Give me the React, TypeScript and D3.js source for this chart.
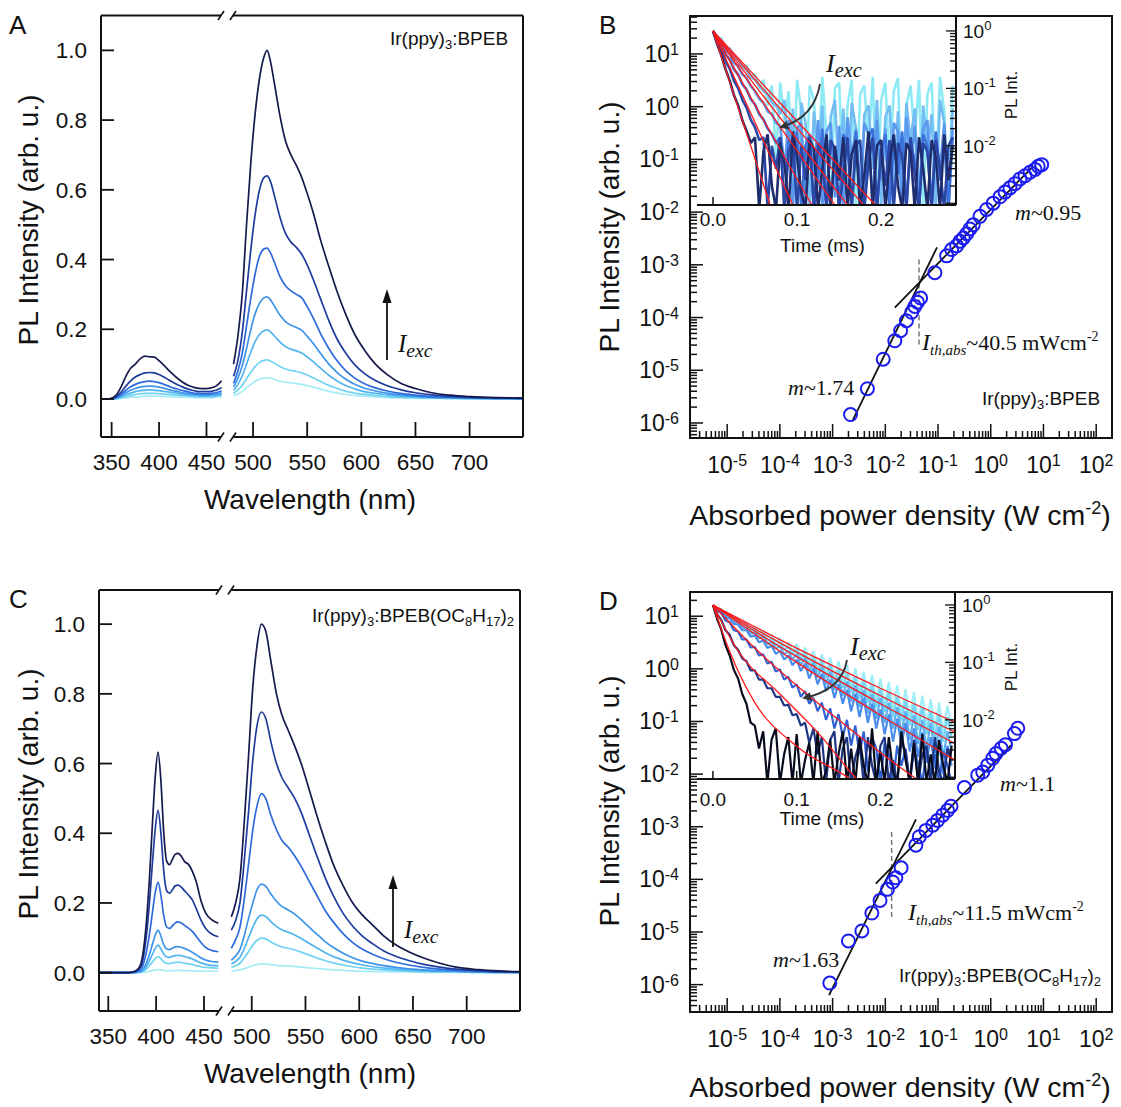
import React from "react";
import * as d3 from "d3";

const SANS = "'Liberation Sans', Arial, Helvetica, sans-serif";
const SERIF = "'Liberation Serif', 'Times New Roman', Times, serif";

// ---------- styling constants ----------
const SPEC_COLORS = ["#141a4e", "#1f3c9c", "#2d6bdc", "#3e94e8", "#52b4ee", "#6fd2f2", "#a6ecf7"];
const B_TRACE_COLORS = ["#1f2d6e", "#2a47a6", "#3c70da", "#5a98ee", "#73bdf3", "#8eeaf5"];
const D_TRACE_COLORS = ["#070b1e", "#1f3585", "#3062d6", "#4a8cec", "#5cb0f1", "#76d6f3", "#a0eff8"];
const FIT_COLOR = "#ff1a1a";
const SCATTER_COLOR = "#1c1cf0";

// ---------- ticks ----------
const Y_TICKS_SPEC = [0, 0.2, 0.4, 0.6, 0.8, 1.0];
const X_TICKS_LEFT = [350, 400, 450];
const X_TICKS_RIGHT = [500, 550, 600, 650, 700];
const INSET_T_TICKS = [0, 0.1, 0.2];
const TIME_STEP = 0.005; // ms between decay samples

// ---------- Panel A : Ir(ppy)3:BPEB spectra ----------
const A_LEFT_WL = [339, 345, 350, 355, 360, 365, 370, 375, 380, 385, 390, 395, 400, 405, 410, 415, 420, 425, 430, 435, 440, 445, 450, 455, 460, 466];
const A_L1 = [0, 0, 0.002, 0.012, 0.035, 0.065, 0.088, 0.1, 0.115, 0.123, 0.121, 0.12, 0.11, 0.097, 0.083, 0.07, 0.058, 0.048, 0.04, 0.035, 0.031, 0.03, 0.03, 0.032, 0.037, 0.052];
const A_L2 = [0, 0, 0.001, 0.007, 0.02, 0.037, 0.052, 0.063, 0.07, 0.075, 0.076, 0.075, 0.07, 0.063, 0.055, 0.047, 0.04, 0.034, 0.029, 0.025, 0.022, 0.021, 0.021, 0.022, 0.025, 0.032];
const A_L3 = [0, 0, 0.001, 0.005, 0.014, 0.025, 0.035, 0.042, 0.047, 0.05, 0.051, 0.05, 0.047, 0.042, 0.037, 0.032, 0.028, 0.024, 0.021, 0.018, 0.016, 0.015, 0.015, 0.016, 0.018, 0.023];
const A_L4 = [0, 0, 0, 0.003, 0.01, 0.018, 0.025, 0.03, 0.034, 0.036, 0.037, 0.036, 0.034, 0.031, 0.027, 0.024, 0.021, 0.018, 0.016, 0.014, 0.013, 0.012, 0.012, 0.013, 0.014, 0.018];
const A_L5 = [0, 0, 0, 0.002, 0.007, 0.012, 0.017, 0.021, 0.024, 0.025, 0.026, 0.025, 0.024, 0.022, 0.02, 0.018, 0.016, 0.014, 0.012, 0.011, 0.01, 0.009, 0.009, 0.01, 0.011, 0.014];
const A_L6 = [0, 0, 0, 0.001, 0.004, 0.007, 0.01, 0.013, 0.015, 0.016, 0.016, 0.016, 0.015, 0.014, 0.013, 0.012, 0.011, 0.01, 0.009, 0.008, 0.007, 0.007, 0.007, 0.007, 0.008, 0.01];
const A_L7 = [0, 0, 0, 0.001, 0.002, 0.004, 0.005, 0.006, 0.007, 0.008, 0.008, 0.008, 0.008, 0.007, 0.007, 0.006, 0.006, 0.005, 0.005, 0.004, 0.004, 0.004, 0.004, 0.004, 0.005, 0.006];

const A_RIGHT_WL = [482, 486, 490, 494, 498, 502, 506, 510, 513, 516, 520, 525, 530, 535, 540, 545, 550, 556, 562, 570, 578, 586, 594, 603, 613, 624, 636, 650, 665, 682, 700, 725, 749];
const A_R1 = [0.10, 0.18, 0.30, 0.50, 0.68, 0.82, 0.92, 0.98, 1.00, 0.97, 0.90, 0.81, 0.74, 0.70, 0.67, 0.635, 0.59, 0.53, 0.46, 0.38, 0.305, 0.24, 0.185, 0.14, 0.10, 0.07, 0.046, 0.03, 0.018, 0.011, 0.007, 0.004, 0.003];
const A_R2 = [0.065, 0.11, 0.19, 0.31, 0.43, 0.53, 0.60, 0.635, 0.64, 0.625, 0.58, 0.52, 0.475, 0.45, 0.435, 0.415, 0.385, 0.34, 0.29, 0.225, 0.17, 0.13, 0.098, 0.073, 0.053, 0.038, 0.027, 0.018, 0.012, 0.008, 0.005, 0.003, 0.002];
const A_R3 = [0.045, 0.08, 0.13, 0.21, 0.29, 0.36, 0.41, 0.43, 0.433, 0.42, 0.39, 0.35, 0.325, 0.31, 0.30, 0.29, 0.265, 0.23, 0.19, 0.145, 0.108, 0.08, 0.06, 0.044, 0.032, 0.023, 0.016, 0.011, 0.007, 0.005, 0.003, 0.002, 0.001];
const A_R4 = [0.035, 0.06, 0.095, 0.145, 0.20, 0.245, 0.275, 0.29, 0.293, 0.285, 0.265, 0.24, 0.222, 0.212, 0.205, 0.197, 0.18, 0.158, 0.132, 0.10, 0.075, 0.056, 0.042, 0.031, 0.023, 0.017, 0.012, 0.008, 0.005, 0.004, 0.003, 0.002, 0.001];
const A_R5 = [0.025, 0.042, 0.066, 0.10, 0.135, 0.165, 0.185, 0.196, 0.198, 0.193, 0.18, 0.163, 0.15, 0.143, 0.138, 0.132, 0.121, 0.106, 0.089, 0.068, 0.051, 0.038, 0.029, 0.021, 0.016, 0.012, 0.008, 0.006, 0.004, 0.003, 0.002, 0.001, 0.001];
const A_R6 = [0.016, 0.026, 0.039, 0.058, 0.077, 0.093, 0.105, 0.111, 0.112, 0.109, 0.102, 0.093, 0.086, 0.082, 0.079, 0.075, 0.069, 0.06, 0.051, 0.039, 0.03, 0.022, 0.017, 0.013, 0.01, 0.007, 0.005, 0.004, 0.003, 0.002, 0.001, 0.001, 0];
const A_R7 = [0.009, 0.015, 0.022, 0.032, 0.042, 0.051, 0.057, 0.06, 0.061, 0.06, 0.056, 0.051, 0.048, 0.046, 0.044, 0.042, 0.038, 0.034, 0.029, 0.022, 0.017, 0.013, 0.01, 0.008, 0.006, 0.004, 0.003, 0.002, 0.002, 0.001, 0.001, 0, 0];

// ---------- Panel C : Ir(ppy)3:BPEB(OC8H17)2 spectra ----------
const C_LEFT_WL = [340, 350, 360, 370, 375, 380, 384, 387, 390, 393, 396, 399, 402, 405, 408, 411, 414, 417, 420, 423, 426, 430, 434, 438, 442, 447, 452, 458, 465];
const C_L1 = [0, 0, 0, 0, 0.002, 0.008, 0.025, 0.07, 0.15, 0.27, 0.42, 0.56, 0.633, 0.55, 0.4, 0.32, 0.31, 0.325, 0.34, 0.342, 0.335, 0.318, 0.31, 0.29, 0.26, 0.205, 0.17, 0.152, 0.142];
const C_L2 = [0, 0, 0, 0, 0.001, 0.006, 0.018, 0.05, 0.11, 0.2, 0.31, 0.41, 0.466, 0.4, 0.29, 0.235, 0.228, 0.238, 0.249, 0.251, 0.246, 0.234, 0.222, 0.208, 0.183, 0.15, 0.126, 0.111, 0.103];
const C_L3 = [0, 0, 0, 0, 0.001, 0.003, 0.01, 0.028, 0.062, 0.11, 0.17, 0.228, 0.26, 0.222, 0.163, 0.131, 0.127, 0.134, 0.143, 0.146, 0.143, 0.135, 0.127, 0.118, 0.104, 0.086, 0.072, 0.064, 0.06];
const C_L4 = [0, 0, 0, 0, 0, 0.002, 0.005, 0.013, 0.029, 0.052, 0.08, 0.107, 0.122, 0.105, 0.08, 0.068, 0.066, 0.07, 0.074, 0.075, 0.073, 0.069, 0.064, 0.058, 0.051, 0.042, 0.036, 0.032, 0.03];
const C_L5 = [0, 0, 0, 0, 0, 0.001, 0.003, 0.009, 0.019, 0.034, 0.052, 0.069, 0.079, 0.068, 0.053, 0.045, 0.044, 0.047, 0.049, 0.05, 0.049, 0.046, 0.043, 0.039, 0.034, 0.028, 0.024, 0.021, 0.02];
const C_L6 = [0, 0, 0, 0, 0, 0.001, 0.002, 0.005, 0.011, 0.02, 0.03, 0.04, 0.046, 0.04, 0.031, 0.027, 0.026, 0.028, 0.029, 0.03, 0.029, 0.027, 0.025, 0.023, 0.02, 0.017, 0.015, 0.014, 0.013];
const C_L7 = [0, 0, 0, 0, 0, 0, 0, 0.001, 0.002, 0.004, 0.006, 0.008, 0.009, 0.008, 0.007, 0.006, 0.006, 0.006, 0.006, 0.007, 0.006, 0.006, 0.006, 0.005, 0.005, 0.004, 0.004, 0.004, 0.004];

const C_RIGHT_WL = [481, 485, 489, 493, 497, 501, 505, 509, 513, 518, 523, 528, 534, 540, 546, 553, 560, 568, 576, 585, 594, 603, 613, 623, 634, 646, 660, 675, 690, 710, 730, 749];
const C_R1 = [0.16, 0.2, 0.27, 0.43, 0.62, 0.82, 0.94, 1.0, 0.98, 0.89, 0.8, 0.74, 0.695, 0.65, 0.6, 0.53, 0.457, 0.38, 0.31, 0.25, 0.2, 0.165, 0.135, 0.105, 0.08, 0.06, 0.042, 0.027, 0.016, 0.009, 0.005, 0.003];
const C_R2 = [0.122, 0.15, 0.2, 0.32, 0.46, 0.61, 0.71, 0.748, 0.73, 0.66, 0.6, 0.56, 0.53, 0.5, 0.46, 0.4, 0.34, 0.275, 0.22, 0.17, 0.133, 0.105, 0.082, 0.062, 0.047, 0.035, 0.024, 0.016, 0.01, 0.006, 0.003, 0.002];
const C_R3 = [0.07, 0.095, 0.13, 0.21, 0.31, 0.41, 0.48, 0.514, 0.5, 0.45, 0.41, 0.38, 0.36, 0.335, 0.305, 0.265, 0.225, 0.18, 0.145, 0.112, 0.086, 0.067, 0.052, 0.04, 0.03, 0.022, 0.015, 0.01, 0.007, 0.004, 0.002, 0.001];
const C_R4 = [0.036, 0.048, 0.066, 0.105, 0.155, 0.2, 0.238, 0.254, 0.248, 0.225, 0.205, 0.19, 0.18, 0.168, 0.152, 0.132, 0.112, 0.09, 0.072, 0.056, 0.043, 0.033, 0.026, 0.02, 0.015, 0.011, 0.008, 0.005, 0.004, 0.002, 0.001, 0.001];
const C_R5 = [0.025, 0.032, 0.044, 0.069, 0.1, 0.13, 0.155, 0.165, 0.161, 0.146, 0.133, 0.123, 0.116, 0.108, 0.098, 0.085, 0.072, 0.058, 0.046, 0.036, 0.028, 0.022, 0.017, 0.013, 0.01, 0.007, 0.005, 0.004, 0.003, 0.002, 0.001, 0.001];
const C_R6 = [0.016, 0.02, 0.027, 0.042, 0.06, 0.079, 0.093, 0.099, 0.097, 0.088, 0.08, 0.074, 0.07, 0.065, 0.059, 0.051, 0.043, 0.035, 0.028, 0.022, 0.017, 0.013, 0.01, 0.008, 0.006, 0.004, 0.003, 0.002, 0.002, 0.001, 0.001, 0];
const C_R7 = [0.005, 0.006, 0.008, 0.011, 0.016, 0.02, 0.023, 0.025, 0.025, 0.023, 0.021, 0.02, 0.019, 0.018, 0.016, 0.014, 0.012, 0.01, 0.008, 0.007, 0.005, 0.004, 0.003, 0.003, 0.002, 0.002, 0.001, 0.001, 0.001, 0, 0, 0];

// ---------- Panel B : power dependence (log10 values) ----------
const B_LOG_P = [-2.66, -2.34, -2.04, -1.82, -1.71, -1.60, -1.50, -1.44, -1.39, -1.33, -1.06, -0.837, -0.742, -0.647, -0.584, -0.52, -0.457, -0.395, -0.332, -0.205, -0.078, 0.047, 0.175, 0.27, 0.364, 0.46, 0.554, 0.65, 0.745, 0.84, 0.90, 0.966];
const B_LOG_PL = [-5.84, -5.35, -4.79, -4.44, -4.25, -4.06, -3.90, -3.79, -3.71, -3.63, -3.15, -2.83, -2.71, -2.64, -2.555, -2.49, -2.41, -2.32, -2.24, -2.08, -1.95, -1.83, -1.71, -1.62, -1.54, -1.46, -1.37, -1.31, -1.245, -1.19, -1.13, -1.10];
const B_STEEP_X = [-2.615, -1.02];
const B_STEEP_Y = [-5.94, -2.67];
const B_SHALLOW_X = [-1.82, 0.78];
const B_SHALLOW_Y = [-3.81, -1.155];
const B_TH_X = -1.36;
const B_TH_Y = [-2.9, -4.57];

// decay traces (log10 of normalised PL) sampled every TIME_STEP ms; darkest first
const B_T1 = [0, -0.23, -0.43, -0.67, -0.87, -1.12, -1.3, -1.56, -1.74, -1.95, -1.85, -3.1, -2.1, -1.8, -2.7, -3.1, -1.95, -2.3, -3.1, -1.75, -2.2, -2.8, -3.1, -1.9, -2.05, -3.1, -2.4, -1.8, -3.1, -2.0, -2.6, -1.85, -3.1, -2.15, -1.9, -3.1, -2.5, -1.75, -3.1, -2.0, -1.9, -3.1, -2.3, -1.8, -2.7, -3.1, -1.95, -2.1, -3.1, -1.85, -2.4, -3.1, -1.9, -2.2, -3.1, -1.8, -2.6, -2.0];
const B_T2 = [0, -0.18, -0.33, -0.53, -0.66, -0.87, -1.0, -1.2, -1.34, -1.55, -1.68, -1.9, -1.85, -3.1, -2.0, -2.4, -1.85, -3.1, -2.1, -1.9, -3.1, -2.0, -2.6, -1.85, -3.1, -1.95, -2.2, -3.1, -1.9, -2.05, -3.1, -2.5, -1.85, -3.1, -2.0, -1.9, -3.1, -2.3, -1.85, -3.1, -2.05, -2.7, -1.9, -3.1, -1.95, -2.2, -3.1, -1.85, -2.5, -3.1, -1.95, -2.1, -3.1, -1.9, -2.4, -3.1, -2.0, -1.85];
const B_T3 = [0, -0.14, -0.25, -0.41, -0.5, -0.67, -0.76, -0.93, -1.02, -1.19, -1.28, -1.45, -1.54, -1.7, -1.8, -1.95, -1.85, -3.1, -1.9, -2.4, -1.75, -3.1, -2.0, -1.8, -3.1, -2.6, -1.7, -3.1, -1.9, -2.2, -3.1, -1.8, -1.95, -3.1, -1.75, -2.7, -3.1, -1.85, -1.7, -3.1, -2.1, -1.8, -3.1, -1.95, -2.5, -1.75, -3.1, -1.9, -2.3, -3.1, -1.8, -2.0, -3.1, -1.75, -2.6, -1.9, -3.1, -1.85];
const B_T4 = [0, -0.12, -0.2, -0.34, -0.4, -0.55, -0.62, -0.76, -0.82, -0.96, -1.05, -1.18, -1.25, -1.4, -1.45, -1.6, -1.65, -2.4, -1.55, -3.1, -1.7, -1.6, -3.1, -1.8, -2.5, -1.55, -3.1, -1.75, -1.6, -2.9, -1.65, -3.1, -1.5, -2.2, -1.7, -3.1, -1.6, -1.8, -3.1, -1.55, -2.6, -1.7, -3.1, -1.6, -1.75, -3.1, -1.5, -2.3, -1.65, -3.1, -1.7, -1.55, -3.1, -1.8, -2.4, -1.6, -3.1, -1.7];
const B_T5 = [0, -0.1, -0.16, -0.28, -0.32, -0.45, -0.5, -0.62, -0.68, -0.8, -0.85, -0.95, -1.05, -1.1, -1.25, -1.3, -1.45, -1.2, -2.3, -1.35, -3.1, -1.25, -1.6, -3.1, -1.4, -2.2, -1.3, -3.1, -1.5, -1.2, -2.6, -1.35, -3.1, -1.25, -1.7, -3.1, -1.45, -1.3, -2.4, -1.2, -3.1, -1.5, -1.3, -2.8, -1.4, -3.1, -1.25, -1.9, -1.35, -3.1, -1.3, -2.2, -1.45, -3.1, -1.2, -1.6, -3.1, -1.35];
const B_T6 = [0, -0.1, -0.14, -0.3, -0.3, -0.45, -0.5, -0.62, -0.6, -0.8, -0.75, -1.0, -0.85, -1.3, -0.95, -2.2, -0.9, -1.6, -1.05, -2.8, -0.85, -1.4, -3.1, -0.95, -1.2, -2.5, -0.8, -1.8, -3.1, -1.0, -0.9, -2.6, -1.3, -0.85, -3.1, -1.1, -0.95, -2.0, -0.8, -3.1, -1.2, -0.9, -2.4, -1.05, -0.82, -3.1, -1.3, -0.95, -1.9, -0.85, -3.1, -1.1, -0.9, -2.7, -0.8, -1.4, -3.1, -0.95];
const B_FIT_END_T = [0.068, 0.095, 0.1175, 0.145, 0.16, 0.179, 0.193];
const B_FIT_END_LOG = -3.03;

// ---------- Panel D : power dependence ----------
const D_LOG_P = [-3.053, -2.70, -2.445, -2.255, -2.10, -1.96, -1.86, -1.80, -1.70, -1.42, -1.355, -1.23, -1.10, -1.01, -0.91, -0.82, -0.753, -0.50, -0.247, -0.152, -0.057, 0.038, 0.10, 0.198, 0.28, 0.45, 0.513];
const D_LOG_PL = [-5.97, -5.17, -4.98, -4.64, -4.40, -4.19, -4.05, -3.97, -3.78, -3.35, -3.19, -3.07, -2.97, -2.88, -2.78, -2.69, -2.61, -2.255, -2.02, -1.96, -1.83, -1.70, -1.61, -1.51, -1.44, -1.23, -1.13];
const D_STEEP_X = [-3.067, -1.418];
const D_STEEP_Y = [-6.20, -2.86];
const D_SHALLOW_X = [-2.18, 0.388];
const D_SHALLOW_Y = [-4.08, -1.45];
const D_TH_X = -1.88;
const D_TH_Y = [-3.10, -4.75];

const D_T1 = [0, -0.24, -0.43, -0.7, -0.88, -1.13, -1.28, -1.55, -1.72, -2.05, -2.1, -2.5, -2.2, -3.1, -2.35, -2.15, -3.1, -2.6, -2.3, -3.1, -2.25, -3.1, -2.7, -2.4, -3.1, -2.2, -3.1, -2.9, -2.35, -3.1, -2.6, -2.2, -3.1, -2.5, -3.1, -2.3, -2.8, -3.1, -2.15, -3.1, -2.55, -3.1, -2.3, -2.9, -3.1, -2.2, -2.7, -3.1, -2.4, -3.1, -2.25, -3.1, -2.6, -3.1, -2.35, -2.8, -3.1, -2.45];
const D_T2 = [0, -0.16, -0.26, -0.44, -0.52, -0.7, -0.78, -0.93, -0.98, -1.14, -1.14, -1.3, -1.3, -1.45, -1.45, -1.6, -1.6, -1.75, -1.74, -1.92, -1.9, -2.1, -2.05, -2.4, -2.15, -2.6, -2.3, -3.1, -2.35, -2.2, -3.1, -2.5, -2.3, -3.1, -2.65, -2.4, -3.1, -2.3, -2.8, -3.1, -2.45, -2.3, -3.1, -2.7, -3.1, -2.4, -2.55, -3.1, -2.35, -3.1, -2.6, -2.45, -3.1, -2.3, -2.9, -3.1, -2.5, -2.7];
const D_T3 = [0, -0.1, -0.14, -0.27, -0.3, -0.44, -0.46, -0.6, -0.6, -0.74, -0.73, -0.88, -0.86, -1.02, -0.99, -1.16, -1.12, -1.3, -1.25, -1.44, -1.38, -1.6, -1.5, -1.72, -1.62, -1.85, -1.7, -2.0, -1.8, -2.15, -1.9, -2.3, -2.0, -2.45, -2.1, -2.6, -2.2, -2.9, -2.3, -2.5, -3.1, -2.4, -2.6, -3.1, -2.45, -2.8, -2.5, -3.1, -2.55, -2.75, -3.1, -2.5, -2.9, -2.6, -3.1, -2.55, -2.8, -3.1];
const D_T4 = [0, -0.09, -0.11, -0.22, -0.23, -0.33, -0.34, -0.44, -0.44, -0.55, -0.53, -0.65, -0.62, -0.75, -0.71, -0.85, -0.8, -0.95, -0.88, -1.05, -0.95, -1.15, -1.02, -1.28, -1.1, -1.38, -1.2, -1.5, -1.3, -1.62, -1.38, -1.72, -1.48, -1.85, -1.55, -1.95, -1.62, -2.05, -1.72, -2.15, -1.82, -2.25, -1.9, -2.38, -1.98, -2.45, -2.05, -2.55, -2.15, -2.65, -2.22, -2.75, -2.3, -2.85, -2.4, -2.95, -2.45, -2.8];
const D_T5 = [0, -0.08, -0.1, -0.2, -0.2, -0.3, -0.3, -0.4, -0.4, -0.5, -0.47, -0.58, -0.55, -0.68, -0.64, -0.76, -0.72, -0.86, -0.8, -0.95, -0.85, -1.05, -0.92, -1.15, -1.0, -1.26, -1.08, -1.38, -1.16, -1.48, -1.25, -1.58, -1.33, -1.68, -1.4, -1.78, -1.48, -1.88, -1.55, -1.98, -1.62, -2.05, -1.7, -2.15, -1.78, -2.25, -1.85, -2.35, -1.92, -2.42, -2.0, -2.5, -2.05, -2.6, -2.12, -2.65, -2.2, -2.55];
const D_T6 = [0, -0.07, -0.08, -0.18, -0.18, -0.27, -0.27, -0.36, -0.35, -0.45, -0.42, -0.53, -0.5, -0.62, -0.58, -0.7, -0.65, -0.78, -0.72, -0.86, -0.76, -0.96, -0.83, -1.06, -0.9, -1.16, -0.98, -1.26, -1.04, -1.35, -1.12, -1.44, -1.2, -1.52, -1.26, -1.62, -1.32, -1.7, -1.4, -1.78, -1.46, -1.86, -1.52, -1.95, -1.6, -2.02, -1.66, -2.1, -1.72, -2.18, -1.78, -2.25, -1.85, -2.32, -1.9, -2.38, -1.95, -2.3];
const D_T7 = [0, -0.06, -0.07, -0.16, -0.16, -0.24, -0.24, -0.33, -0.32, -0.41, -0.38, -0.48, -0.45, -0.56, -0.52, -0.64, -0.58, -0.72, -0.65, -0.8, -0.68, -0.9, -0.74, -0.98, -0.8, -1.07, -0.86, -1.16, -0.92, -1.25, -0.98, -1.33, -1.04, -1.42, -1.1, -1.5, -1.16, -1.58, -1.22, -1.66, -1.28, -1.74, -1.34, -1.82, -1.4, -1.9, -1.46, -1.96, -1.52, -2.04, -1.58, -2.1, -1.64, -2.16, -1.7, -2.22, -1.76, -2.1];

const D_FIT1 = [[0, 0], [0.1, -0.75], [0.2, -1.45], [0.29, -2.05]];
const D_FIT2 = [[0, 0], [0.1, -0.82], [0.2, -1.58], [0.29, -2.22]];
const D_FIT3 = [[0, 0], [0.1, -0.9], [0.2, -1.72], [0.29, -2.42]];
const D_FIT4 = [[0, 0], [0.1, -1.0], [0.2, -1.92], [0.29, -2.71]];
const D_FIT5 = [[0, 0], [0.05, -0.75], [0.15, -2.0], [0.243, -3.03], [0.26, -3.2]];
const D_FIT6 = [[0, 0], [0.03, -0.8], [0.08, -1.55], [0.13, -2.3], [0.172, -3.03], [0.185, -3.2]];
const D_FIT7 = [[0, 0], [0.015, -0.62], [0.03, -1.15], [0.05, -1.7], [0.1, -2.46], [0.164, -3.03], [0.18, -3.2]];

// ---------- helpers ----------
function logTicks(lo: number, hi: number) {
  const out: { v: number; e: number; major: boolean }[] = [];
  for (let n = Math.floor(lo); n <= Math.ceil(hi); n++) {
    for (let k = 1; k <= 9; k++) {
      const lv = n + Math.log10(k);
      if (lv >= lo - 1e-9 && lv <= hi + 1e-9) out.push({ v: Math.pow(10, lv), e: n, major: k === 1 });
    }
  }
  return out;
}

function Pow({ x, y, e, anchor, size, sup, raise }: any) {
  return (
    <text x={x} y={y} textAnchor={anchor} fontFamily={SANS} fontSize={size} fill="#111">
      10<tspan fontSize={sup} dy={-raise}>{String(e)}</tspan>
    </text>
  );
}

function Slash({ x, y }: any) {
  return <line x1={x - 3} y1={y + 4.5} x2={x + 3} y2={y - 4.5} stroke="#111" strokeWidth={1.6} />;
}

function Iexc({ x, y, size }: any) {
  return (
    <text x={x} y={y} fontFamily={SERIF} fontStyle="italic" fontSize={size} fill="#111">
      I<tspan fontSize={size * 0.78} dy={size * 0.2}>exc</tspan>
    </text>
  );
}

function SpectrumPanel(p: any) {
  const { id, x0, x1, y0, y1, bL, bR, leftDom, rightDom, yDom, leftWl, rightWl, leftSeries, rightSeries } = p;
  const xl = d3.scaleLinear().domain(leftDom).range([x0, bL]);
  const xr = d3.scaleLinear().domain(rightDom).range([bR, x1]);
  const y = d3.scaleLinear().domain(yDom).range([y1, y0]);
  const lineL = d3.line<number>().x((_, i) => xl(leftWl[i])).y((d) => y(d)).curve(d3.curveMonotoneX);
  const lineR = d3.line<number>().x((_, i) => xr(rightWl[i])).y((d) => y(d)).curve(d3.curveMonotoneX);
  const order = d3.range(leftSeries.length).reverse();
  return (
    <g>
      <defs>
        <clipPath id={`${id}-l`}><rect x={x0} y={y0} width={bL - x0 + 1} height={y1 - y0} /></clipPath>
        <clipPath id={`${id}-r`}><rect x={bR - 1} y={y0} width={x1 - bR + 1} height={y1 - y0} /></clipPath>
      </defs>
      <g clipPath={`url(#${id}-l)`}>
        {order.map((k) => (
          <path key={k} d={lineL(leftSeries[k]) || ""} fill="none" stroke={SPEC_COLORS[k]} strokeWidth={1.7} />
        ))}
      </g>
      <g clipPath={`url(#${id}-r)`}>
        {order.map((k) => (
          <path key={k} d={lineR(rightSeries[k]) || ""} fill="none" stroke={SPEC_COLORS[k]} strokeWidth={1.7} />
        ))}
      </g>
      <g stroke="#111" strokeWidth={2} fill="none">
        <line x1={x0} y1={y0} x2={bL} y2={y0} />
        <line x1={bR} y1={y0} x2={x1} y2={y0} />
        <line x1={x0} y1={y1} x2={bL} y2={y1} />
        <line x1={bR} y1={y1} x2={x1} y2={y1} />
        <line x1={x0} y1={y0} x2={x0} y2={y1} />
        <line x1={x1} y1={y0} x2={x1} y2={y1} />
      </g>
      <Slash x={bL} y={y0} /><Slash x={bR} y={y0} /><Slash x={bL} y={y1} /><Slash x={bR} y={y1} />
      {Y_TICKS_SPEC.map((v) => (
        <g key={v}>
          <line x1={x0} x2={x0 + 13} y1={y(v)} y2={y(v)} stroke="#111" strokeWidth={1.8} />
          <text x={x0 - 14} y={y(v) + 8} textAnchor="end" fontFamily={SANS} fontSize={22.5} fill="#111">{d3.format(".1f")(v)}</text>
        </g>
      ))}
      {X_TICKS_LEFT.map((v) => (
        <g key={v}>
          <line x1={xl(v)} x2={xl(v)} y1={y1} y2={y1 - 15} stroke="#111" strokeWidth={1.8} />
          <text x={xl(v)} y={y1 + 33} textAnchor="middle" fontFamily={SANS} fontSize={22.5} fill="#111">{v}</text>
        </g>
      ))}
      {X_TICKS_RIGHT.map((v) => (
        <g key={v}>
          <line x1={xr(v)} x2={xr(v)} y1={y1} y2={y1 - 15} stroke="#111" strokeWidth={1.8} />
          <text x={xr(v)} y={y1 + 33} textAnchor="middle" fontFamily={SANS} fontSize={22.5} fill="#111">{v}</text>
        </g>
      ))}
      <text x={310} y={y1 + 72} textAnchor="middle" fontFamily={SANS} fontSize={28} fill="#111">Wavelength (nm)</text>
      <text transform={`translate(38,${p.yTitleY}) rotate(-90)`} textAnchor="middle" fontFamily={SANS} fontSize={28} fill="#111">PL Intensity (arb. u.)</text>
      <text x={9} y={y0 + 18} fontFamily={SANS} fontSize={26} fill="#111">{p.letter}</text>
      <line x1={p.arrowX} x2={p.arrowX} y1={p.arrowY0} y2={p.arrowY1 + 10} stroke="#111" strokeWidth={1.8} />
      <polygon points={`${p.arrowX},${p.arrowY1} ${p.arrowX - 4.5},${p.arrowY1 + 14} ${p.arrowX + 4.5},${p.arrowY1 + 14}`} fill="#111" />
      <Iexc x={p.arrowX + 11} y={p.iexcY} size={25} />
      {p.children}
    </g>
  );
}

function Inset(p: any) {
  const { id, x0, x1, y0, y1, tDom, logDom, traces, colors, fits, fitCurve, traceWidth } = p;
  const x = d3.scaleLinear().domain(tDom).range([x0, x1]);
  const y = d3.scaleLog().domain([10 ** logDom[0], 10 ** logDom[1]]).range([y1, y0]);
  const traceLine = d3.line<number>().x((_, i) => x(i * TIME_STEP)).y((d) => y(10 ** d)).curve(d3.curveLinear);
  const fitLine = d3.line<number[]>().x((d) => x(d[0])).y((d) => y(10 ** d[1])).curve(fitCurve);
  const yt = logTicks(logDom[0], logDom[1]);
  const order = d3.range(traces.length).reverse();
  return (
    <g>
      <defs>
        <clipPath id={`${id}-in`}><rect x={x0} y={y0} width={x1 - x0} height={y1 - y0} /></clipPath>
      </defs>
      <rect x={x0} y={y0} width={x1 - x0} height={y1 - y0} fill="#fff" />
      {INSET_T_TICKS.map((t) => (
        <line key={t} x1={x(t)} x2={x(t)} y1={y1} y2={y1 - 8} stroke="#111" strokeWidth={1.5} />
      ))}
      <g clipPath={`url(#${id}-in)`}>
        {order.map((k) => (
          <path key={k} d={traceLine(traces[k]) || ""} fill="none" stroke={colors[k]} strokeWidth={traceWidth} strokeLinejoin="bevel" />
        ))}
        {fits.map((f: number[][], k: number) => (
          <path key={k} d={fitLine(f) || ""} fill="none" stroke={FIT_COLOR} strokeWidth={1.3} />
        ))}
      </g>
      <line x1={x0} x2={x1} y1={y1} y2={y1} stroke="#111" strokeWidth={2} />
      <line x1={x1} x2={x1} y1={y0} y2={y1} stroke="#111" strokeWidth={2} />
      {yt.map((t, i) => (
        <line key={i} x1={x1} x2={x1 - (t.major ? 10 : 6)} y1={y(t.v)} y2={y(t.v)} stroke="#111" strokeWidth={1.3} />
      ))}
      {yt.filter((t) => t.major && t.e >= -2).map((t) => (
        <Pow key={t.e} x={x1 + 7} y={y(t.v) + 7} e={t.e} anchor="start" size={19} sup={13} raise={8} />
      ))}
      {INSET_T_TICKS.map((t) => (
        <text key={t} x={x(t)} y={p.tickLabelY} textAnchor="middle" fontFamily={SANS} fontSize={19} fill="#111">{d3.format(".1f")(t)}</text>
      ))}
      <text x={(x0 + x1) / 2 - 4} y={p.titleY} textAnchor="middle" fontFamily={SANS} fontSize={19} fill="#111">Time (ms)</text>
      <text transform={`translate(${p.plIntX},${p.plIntY}) rotate(-90)`} textAnchor="middle" fontFamily={SANS} fontSize={17} fill="#111">PL Int.</text>
    </g>
  );
}

function PowerPanel(p: any) {
  const { id, f, xLog, yLog, px, py, steepX, steepY, shallowX, shallowY, thX, thY } = p;
  const x = d3.scaleLog().domain([10 ** xLog[0], 10 ** xLog[1]]).range([f.x0, f.x1]);
  const y = d3.scaleLog().domain([10 ** yLog[0], 10 ** yLog[1]]).range([f.y1, f.y0]);
  const xt = logTicks(xLog[0], xLog[1]);
  const yt = logTicks(yLog[0], yLog[1]);
  const seg = d3.line<number[]>().x((d) => x(10 ** d[0])).y((d) => y(10 ** d[1]));
  return (
    <g>
      <defs>
        <clipPath id={`${id}-main`}><rect x={f.x0} y={f.y0} width={f.x1 - f.x0} height={f.y1 - f.y0} /></clipPath>
      </defs>
      {p.inset}
      <g clipPath={`url(#${id}-main)`}>
        <line x1={x(10 ** thX)} x2={x(10 ** thX)} y1={y(10 ** thY[0])} y2={y(10 ** thY[1])} stroke="#777" strokeWidth={1.5} strokeDasharray="5,3" />
        <path d={seg(d3.zip(steepX, steepY)) || ""} fill="none" stroke="#111" strokeWidth={1.8} />
        <path d={seg(d3.zip(shallowX, shallowY)) || ""} fill="none" stroke="#111" strokeWidth={1.8} />
        {px.map((v: number, i: number) => (
          <circle key={i} cx={x(10 ** v)} cy={y(10 ** py[i])} r={6.5} fill="none" stroke={SCATTER_COLOR} strokeWidth={2} />
        ))}
      </g>
      {xt.map((t, i) => (
        <line key={i} x1={x(t.v)} x2={x(t.v)} y1={f.y1} y2={f.y1 - (t.major ? 14 : 7)} stroke="#111" strokeWidth={1.5} />
      ))}
      {yt.map((t, i) => (
        <line key={i} x1={f.x0} x2={f.x0 + (t.major ? 13 : 7)} y1={y(t.v)} y2={y(t.v)} stroke="#111" strokeWidth={1.5} />
      ))}
      {xt.filter((t) => t.major).map((t) => (
        <Pow key={t.e} x={x(t.v)} y={f.y1 + 35} e={t.e} anchor="middle" size={23} sup={16} raise={7} />
      ))}
      {yt.filter((t) => t.major).map((t) => (
        <Pow key={t.e} x={f.x0 - 11} y={y(t.v) + 8} e={t.e} anchor="end" size={23} sup={16} raise={7} />
      ))}
      <rect x={f.x0} y={f.y0} width={f.x1 - f.x0} height={f.y1 - f.y0} fill="none" stroke="#111" strokeWidth={2} />
      <text x={900} y={p.xTitleY} textAnchor="middle" fontFamily={SANS} fontSize={28.5} fill="#111">
        Absorbed power density (W cm<tspan fontSize={18} dy={-11}>-2</tspan><tspan dy={11}>)</tspan>
      </text>
      <text transform={`translate(619,${p.yTitleY}) rotate(-90)`} textAnchor="middle" fontFamily={SANS} fontSize={28} fill="#111">PL Intensity (arb. u.)</text>
      <text x={599} y={f.y0 + 18} fontFamily={SANS} fontSize={26} fill="#111">{p.letter}</text>
      {p.children}
    </g>
  );
}

function Slope({ x, y, v }: any) {
  return (
    <text x={x} y={y} fontFamily={SERIF} fontSize={22} fill="#111">
      <tspan fontStyle="italic">m</tspan>~{v}
    </text>
  );
}

function Threshold({ x, y, v }: any) {
  return (
    <text x={x} y={y} fontFamily={SERIF} fontSize={22} fill="#111">
      <tspan fontStyle="italic" fontSize={24}>I</tspan>
      <tspan fontStyle="italic" fontSize={15} dy={5}>th,abs</tspan>
      <tspan dy={-5}>~{v} mWcm</tspan>
      <tspan fontSize={14} dy={-9}>-2</tspan>
    </text>
  );
}

function Marker() {
  return (
    <defs>
      <marker id="arrowhead" viewBox="0 0 10 10" refX="8" refY="5" markerWidth="9" markerHeight="9" orient="auto-start-reverse" markerUnits="userSpaceOnUse">
        <path d="M0,0 L10,5 L0,10 z" fill="#333" />
      </marker>
    </defs>
  );
}

export default function App() {
  const A_LEFT = [A_L1, A_L2, A_L3, A_L4, A_L5, A_L6, A_L7];
  const A_RIGHT = [A_R1, A_R2, A_R3, A_R4, A_R5, A_R6, A_R7];
  const C_LEFT = [C_L1, C_L2, C_L3, C_L4, C_L5, C_L6, C_L7];
  const C_RIGHT = [C_R1, C_R2, C_R3, C_R4, C_R5, C_R6, C_R7];
  const B_TRACES = [B_T1, B_T2, B_T3, B_T4, B_T5, B_T6];
  const D_TRACES = [D_T1, D_T2, D_T3, D_T4, D_T5, D_T6, D_T7];
  const B_FITS = B_FIT_END_T.map((t) => [[0, 0], [t, B_FIT_END_LOG]]);
  const D_FITS = [D_FIT1, D_FIT2, D_FIT3, D_FIT4, D_FIT5, D_FIT6, D_FIT7];

  const fB = { x0: 690, x1: 1112, y0: 16, y1: 438 };
  const fD = { x0: 690, x1: 1112, y0: 592, y1: 1012 };

  return (
    <svg width={1121} height={1107} style={{ position: "absolute", left: 0, top: 0, background: "#fff" }}>
      <Marker />
      <rect x={0} y={0} width={1121} height={1107} fill="#fff" />
      <SpectrumPanel
        id="pa" letter="A" x0={101} x1={523} y0={15.5} y1={437} bL={221} bR={233}
        leftDom={[338.8, 465.3]} rightDom={[481.5, 749.3]} yDom={[-0.109, 1.1]}
        leftWl={A_LEFT_WL} rightWl={A_RIGHT_WL} leftSeries={A_LEFT} rightSeries={A_RIGHT}
        yTitleY={220} arrowX={387} arrowY0={360} arrowY1={289} iexcY={352}
      >
        <text x={390} y={45} fontFamily={SANS} fontSize={19} fill="#111">
          Ir(ppy)<tspan fontSize={13} dy={4}>3</tspan><tspan dy={-4}>:BPEB</tspan>
        </text>
      </SpectrumPanel>
      <SpectrumPanel
        id="pc" letter="C" x0={99} x1={520} y0={590} y1={1011} bL={219} bR={231}
        leftDom={[340.3, 465.7]} rightDom={[480.7, 749.6]} yDom={[-0.11, 1.098]}
        leftWl={C_LEFT_WL} rightWl={C_RIGHT_WL} leftSeries={C_LEFT} rightSeries={C_RIGHT}
        yTitleY={794} arrowX={393} arrowY0={947} arrowY1={875} iexcY={938}
      >
        <text x={312} y={622} fontFamily={SANS} fontSize={19} fill="#111">
          Ir(ppy)<tspan fontSize={13} dy={4}>3</tspan><tspan dy={-4}>:BPEB(OC</tspan><tspan fontSize={13} dy={4}>8</tspan><tspan dy={-4}>H</tspan><tspan fontSize={13} dy={4}>17</tspan><tspan dy={-4}>)</tspan><tspan fontSize={13} dy={4}>2</tspan>
        </text>
      </SpectrumPanel>

      <PowerPanel
        id="pb" letter="B" f={fB} xLog={[-5.705, 2.3]} yLog={[-6.285, 1.72]}
        px={B_LOG_P} py={B_LOG_PL} steepX={B_STEEP_X} steepY={B_STEEP_Y} shallowX={B_SHALLOW_X} shallowY={B_SHALLOW_Y}
        thX={B_TH_X} thY={B_TH_Y} xTitleY={525} yTitleY={227}
        inset={
          <Inset id="ib" x0={697} x1={956} y0={16} y1={205} tDom={[-0.019, 0.289]} logDom={[-3.03, 0.26]}
            traces={B_TRACES} colors={B_TRACE_COLORS} fits={B_FITS} fitCurve={d3.curveLinear} traceWidth={2.6}
            tickLabelY={226} titleY={252} plIntX={1017} plIntY={95} />
        }
      >
        <Iexc x={826} y={72} size={26} />
        <path d="M820,84 Q814,118 781,127" fill="none" stroke="#333" strokeWidth={1.8} markerEnd="url(#arrowhead)" />
        <Slope x={788} y={395} v="1.74" />
        <Slope x={1015} y={220} v="0.95" />
        <Threshold x={922} y={350} v="40.5" />
        <text x={982} y={405} fontFamily={SANS} fontSize={19} fill="#111">
          Ir(ppy)<tspan fontSize={13} dy={4}>3</tspan><tspan dy={-4}>:BPEB</tspan>
        </text>
      </PowerPanel>

      <PowerPanel
        id="pd" letter="D" f={fD} xLog={[-5.705, 2.3]} yLog={[-6.52, 1.46]}
        px={D_LOG_P} py={D_LOG_PL} steepX={D_STEEP_X} steepY={D_STEEP_Y} shallowX={D_SHALLOW_X} shallowY={D_SHALLOW_Y}
        thX={D_TH_X} thY={D_TH_Y} xTitleY={1097} yTitleY={801}
        inset={
          <Inset id="id" x0={697} x1={955} y0={592} y1={779} tDom={[-0.019, 0.289]} logDom={[-3.03, 0.226]}
            traces={D_TRACES} colors={D_TRACE_COLORS} fits={D_FITS} fitCurve={d3.curveMonotoneX} traceWidth={2.2}
            tickLabelY={806} titleY={825} plIntX={1017} plIntY={667} />
        }
      >
        <Iexc x={850} y={655} size={26} />
        <path d="M847,660 Q842,690 804,698" fill="none" stroke="#333" strokeWidth={1.8} markerEnd="url(#arrowhead)" />
        <Slope x={773} y={967} v="1.63" />
        <Slope x={1000} y={791} v="1.1" />
        <Threshold x={908} y={920} v="11.5" />
        <text x={899} y={982} fontFamily={SANS} fontSize={19} fill="#111">
          Ir(ppy)<tspan fontSize={13} dy={4}>3</tspan><tspan dy={-4}>:BPEB(OC</tspan><tspan fontSize={13} dy={4}>8</tspan><tspan dy={-4}>H</tspan><tspan fontSize={13} dy={4}>17</tspan><tspan dy={-4}>)</tspan><tspan fontSize={13} dy={4}>2</tspan>
        </text>
      </PowerPanel>
    </svg>
  );
}
